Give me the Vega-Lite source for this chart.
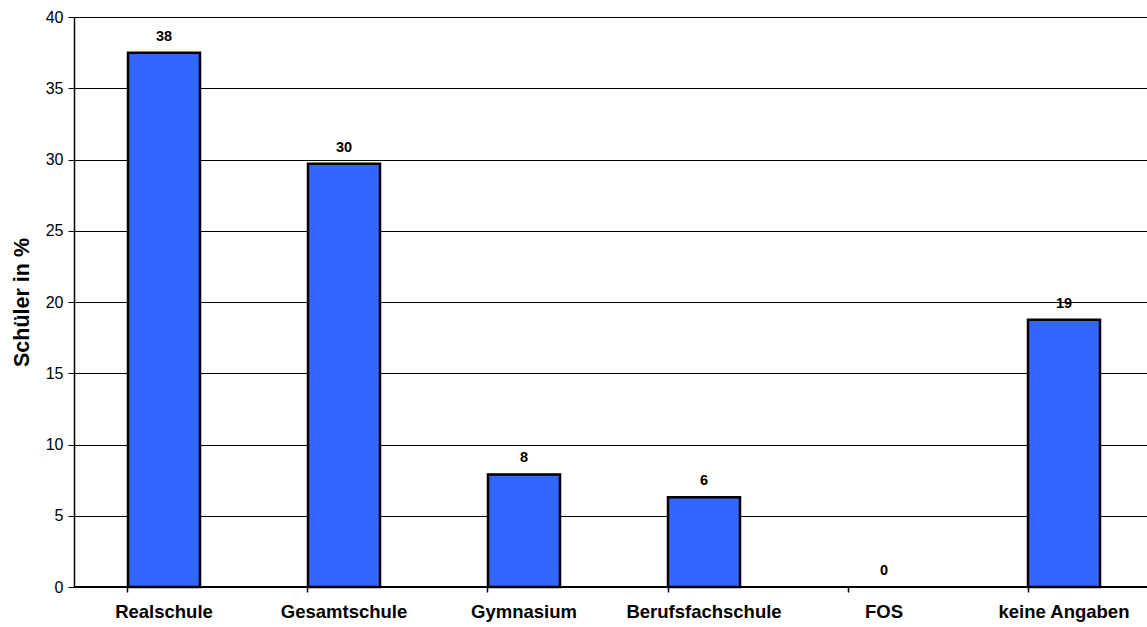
{
  "$schema": "https://vega.github.io/schema/vega-lite/v6.json",
  "width": 1080,
  "height": 570,
  "autosize": {"type": "none"},
  "padding": {"left": 74, "top": 17, "right": 0, "bottom": 40},
  "background": "white",
  "config": {"view": {"stroke": null}, "font": "Liberation Sans"},
  "data": {
    "values": [
      {"schule": "Realschule", "wert": 37.5, "label": "38"},
      {"schule": "Gesamtschule", "wert": 29.7, "label": "30"},
      {"schule": "Gymnasium", "wert": 7.9, "label": "8"},
      {"schule": "Berufsfachschule", "wert": 6.3, "label": "6"},
      {"schule": "FOS", "wert": 0, "label": "0"},
      {"schule": "keine Angaben", "wert": 18.75, "label": "19"}
    ]
  },
  "encoding": {
    "x": {
      "field": "schule", "type": "nominal", "sort": null,
      "scale": {"paddingInner": 0.6, "paddingOuter": 0.3},
      "axis": {
        "title": null, "labelAngle": 0, "labelFontWeight": "bold", "labelFontSize": 18.5,
        "labelColor": "black", "labelPadding": 10, "domain": false,
        "ticks": true, "tickColor": "black", "tickSize": 5, "bandPosition": 0, "tickWidth": 1.5,
        "grid": false
      }
    },
    "y": {
      "field": "wert", "type": "quantitative",
      "scale": {"domain": [0, 40]},
      "axis": {
        "title": "Schüler in %", "titleFontSize": 21.5, "titleFontWeight": "bold", "titleColor": "black",
        "titlePadding": 12,
        "values": [0, 5, 10, 15, 20, 25, 30, 35, 40],
        "labelFontSize": 16, "labelColor": "black", "labelPadding": 5,
        "domainColor": "black", "domainWidth": 1.5, "tickColor": "black", "tickSize": 6,
        "grid": true, "gridColor": "black", "gridWidth": 1, "gridOpacity": 1
      }
    }
  },
  "layer": [
    {
      "mark": {"type": "bar", "color": "#3366FF", "stroke": "black", "strokeWidth": 2.5, "cornerRadius": 0},
      "encoding": {
        "strokeOpacity": {"condition": {"test": "datum.wert > 0", "value": 1}, "value": 0}
      }
    },
    {
      "mark": {"type": "text", "dy": -16, "fontWeight": "bold", "fontSize": 14.5, "color": "black"},
      "encoding": {"text": {"field": "label"}}
    },
    {
      "mark": {"type": "rule", "color": "black", "strokeWidth": 1.5},
      "encoding": {"y": {"datum": 0}, "x": null}
    }
  ]
}
